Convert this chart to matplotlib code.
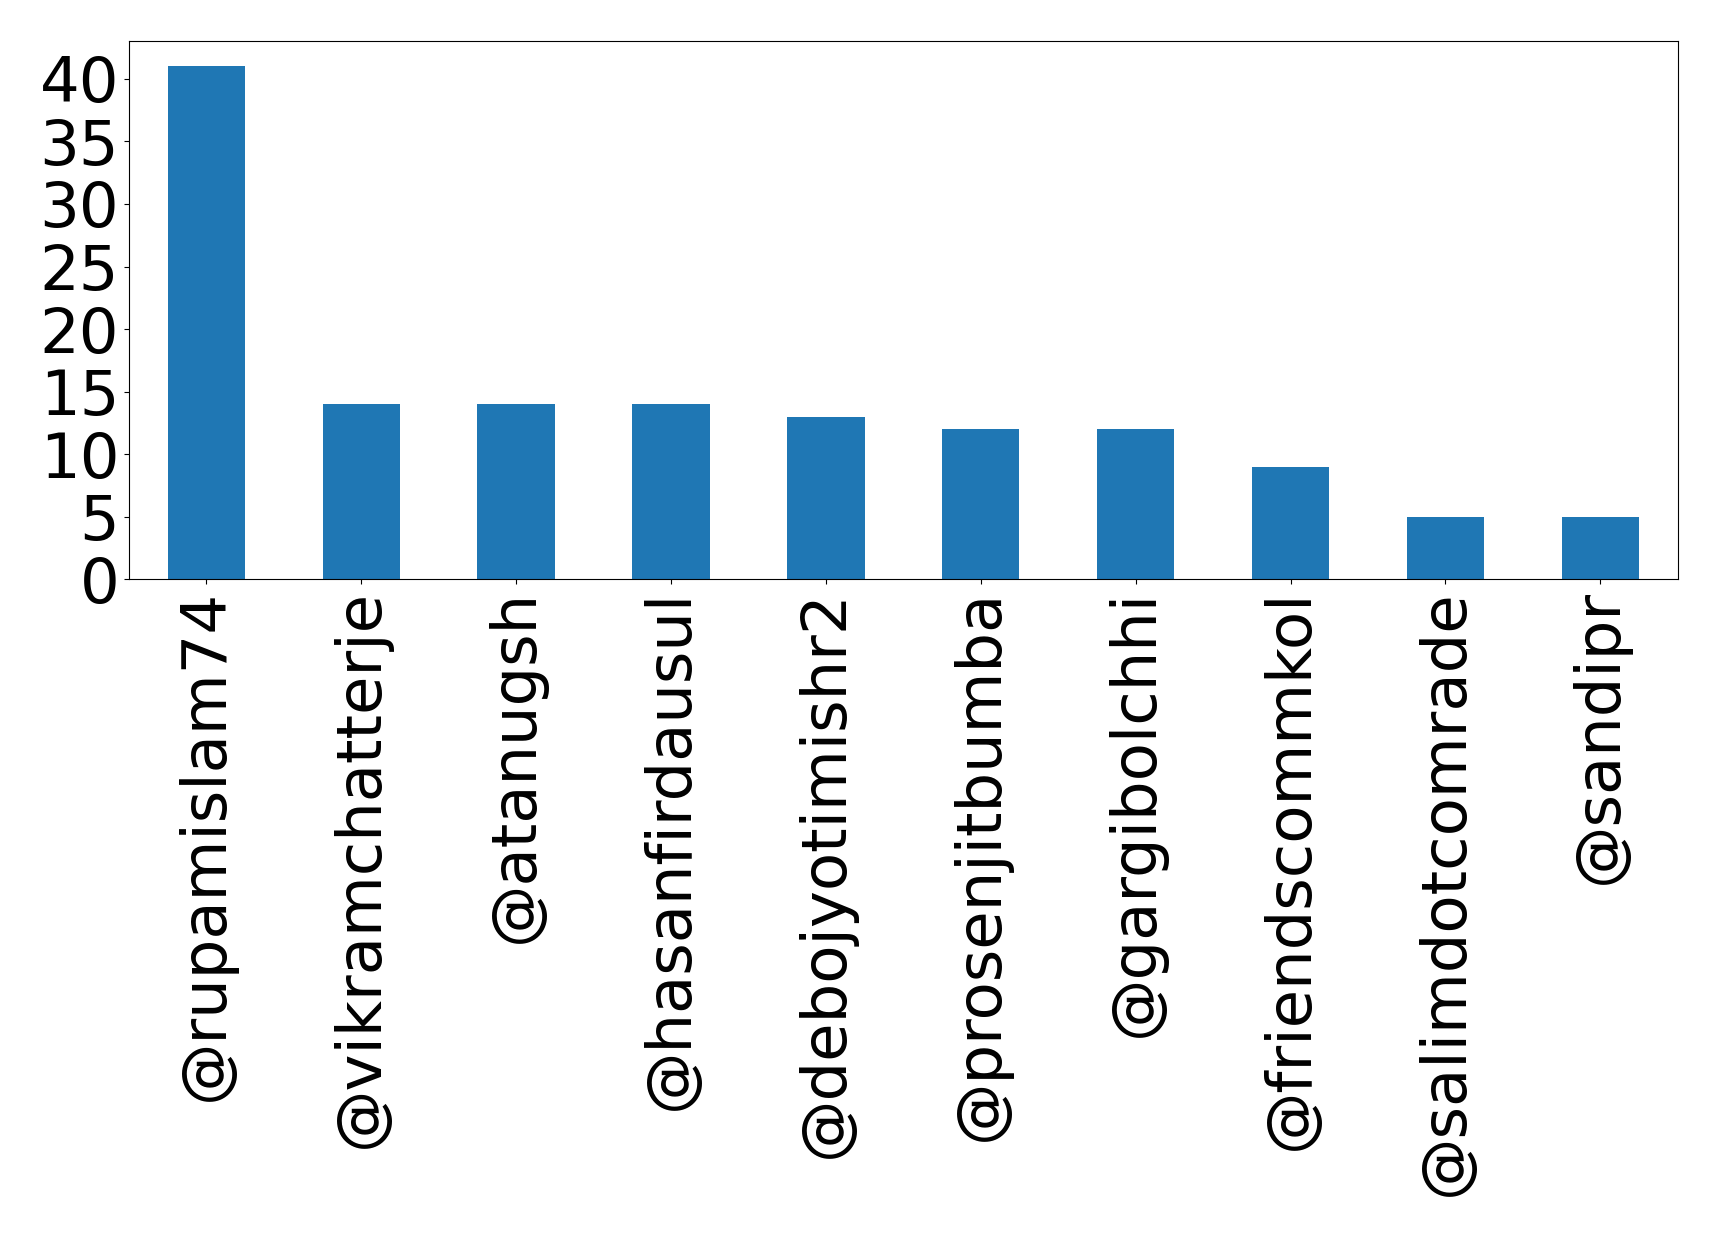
import matplotlib
matplotlib.use("Agg")
import matplotlib.pyplot as plt
import pandas as pd

users = ["@rupamislam74", "@vikramchatterje", "@atanugsh", "@hasanfirdausul",
         "@debojyotimishr2", "@prosenjitbumba", "@gargibolchhi", "@friendscommkol",
         "@salimdotcomrade", "@sandipr"]
counts = [41, 14, 14, 14, 13, 12, 12, 9, 5, 5]

s = pd.Series(counts, index=users)

fig = plt.figure(figsize=(17.19, 12.35), dpi=100)
ax = fig.add_subplot(111)
s.plot(kind="bar", ax=ax, fontsize=45)
plt.subplots_adjust(left=0.075, right=0.976, top=0.967, bottom=0.531)
plt.savefig("out.png", dpi=100)
